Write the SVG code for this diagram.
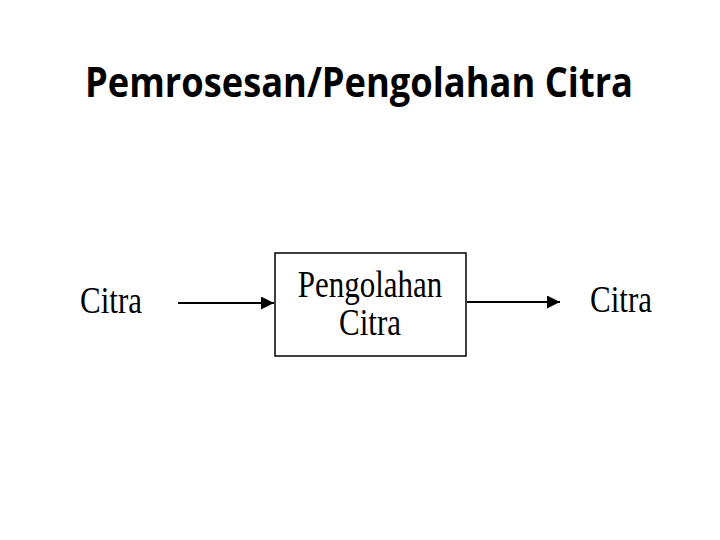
<svg xmlns="http://www.w3.org/2000/svg" width="720" height="540" viewBox="0 0 720 540">
<style>
.title{font-family:"Open Sans","Noto Sans",sans-serif;font-weight:bold;font-size:41px;fill:#000}
.lbl{font-family:"Liberation Serif","Times New Roman",serif;font-size:31px;fill:#000}
.box{fill:#fff;stroke:#000;stroke-width:1.5}
.conn{stroke:#000;stroke-width:2;fill:none}
</style>
<defs>
<marker id="ah" viewBox="0 0 10 10" refX="10" refY="5" markerWidth="7" markerHeight="6.5" orient="auto" markerUnits="strokeWidth">
<path d="M0,0 L10,5 L0,10 z" fill="#000"/>
</marker>
</defs>
<rect width="720" height="540" fill="#fff"/>
<text class="title" x="359" y="97" text-anchor="middle" textLength="548" lengthAdjust="spacingAndGlyphs">Pemrosesan/Pengolahan Citra</text>
<g id="input">
<text class="lbl" transform="translate(80,313) scale(1,1.2)">Citra</text>
</g>
<g id="process">
<rect class="box" x="275" y="253" width="191" height="103"/>
<text class="lbl" transform="translate(370,297) scale(1,1.2)" text-anchor="middle">Pengolahan</text>
<text class="lbl" transform="translate(370,335) scale(1,1.2)" text-anchor="middle">Citra</text>
</g>
<g id="output">
<text class="lbl" transform="translate(590,312) scale(1,1.2)">Citra</text>
</g>
<g id="connectors">
<line class="conn" x1="178" y1="303" x2="274" y2="303" marker-end="url(#ah)"/>
<line class="conn" x1="467" y1="302" x2="560" y2="302" marker-end="url(#ah)"/>
</g>
</svg>
